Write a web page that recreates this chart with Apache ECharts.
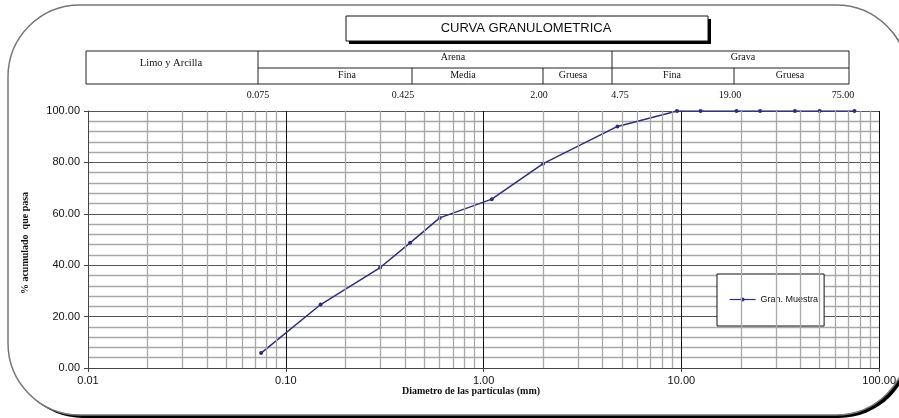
<!DOCTYPE html>
<html>
<head>
<meta charset="utf-8">
<title>Curva granulométrica</title>
<script src="https://cdn.jsdelivr.net/npm/echarts@6/dist/echarts.min.js"></script>
<style>
  html, body { margin: 0; padding: 0; background: #ffffff; }
  #chart { width: 899px; height: 418px; }
</style>
</head>
<body>
<div id="chart"></div>
<script>
// Sieve analysis: particle diameter (mm) and cumulative percent passing
const sieveSize = [0.075, 0.15, 0.3, 0.425, 0.6, 1.1, 2.0, 4.75, 9.5, 12.5, 19, 25, 37.5, 50, 75];
const percentPassing = [5.8, 24.7, 39.1, 48.7, 58.4, 65.7, 79.5, 94.0, 100, 100, 100, 100, 100, 100, 100];
const seriesName = 'Gran. Muestra';

// Soil classification header
const chartTitle = 'CURVA GRANULOMETRICA';
const soilClasses = ['Limo y Arcilla', 'Arena', 'Grava'];
const subClasses = ['Fina', 'Media', 'Gruesa', 'Fina', 'Gruesa'];
const boundaryLabels = ['0.075', '0.425', '2.00', '4.75', '19.00', '75.00'];

const xAxisTitle = 'Diametro de las partículas (mm)';
const yAxisTitle = '% acumulado  que pasa';

// Minor log grid lines (2..9 in every decade)
const minorDiameters = [];
[0.01, 0.1, 1, 10].forEach(function (d) {
  for (let k = 2; k <= 9; k++) minorDiameters.push(+(d * k).toPrecision(3));
});

const SERIF = '"Liberation Serif", "Times New Roman", serif';
const SANS = '"Liberation Sans", Arial, sans-serif';
const LINE_COLOR = '#2E2E7C';

// Header table layout (pixels)
const tbl = { left: 86, right: 849, top: 51, mid: 68, bottom: 84 };
const majorX = [258, 612];
const minorX = [412, 543, 734];
const classX = [171, 453, 743];
const subX = [347, 463, 573, 672, 790];
const boundX = [258, 403, 539, 620, 730, 843];

function hline(x1, x2, y) {
  return { type: 'line', shape: { x1: x1, y1: y, x2: x2, y2: y }, style: { stroke: '#222', lineWidth: 1 }, z: 5 };
}
function vline(x, y1, y2) {
  return { type: 'line', shape: { x1: x, y1: y1, x2: x, y2: y2 }, style: { stroke: '#222', lineWidth: 1 }, z: 5 };
}
function txt(x, y, s, font, size, weight) {
  return {
    type: 'text', x: x, y: y, z: 6,
    style: { text: s, fontFamily: font, fontSize: size, fontWeight: weight || 'normal', fill: '#111', align: 'center', verticalAlign: 'middle' }
  };
}

const graphics = [];
// Outer rounded frame with drop shadow
graphics.push({ type: 'rect', shape: { x: 11, y: 8, width: 900, height: 410, r: 72 }, style: { fill: '#000' }, z: -100, silent: true });
graphics.push({ type: 'rect', shape: { x: 8, y: 5, width: 900, height: 410, r: 72 }, style: { fill: '#fff', stroke: '#777', lineWidth: 1.5 }, z: -99, silent: true });
// Title box with shadow
graphics.push({ type: 'rect', shape: { x: 349, y: 19, width: 362, height: 25 }, style: { fill: '#000' }, z: 4 });
graphics.push({ type: 'rect', shape: { x: 346, y: 16, width: 362, height: 25 }, style: { fill: '#fff', stroke: '#111', lineWidth: 1 }, z: 5 });
graphics.push(txt(526, 28, chartTitle, SANS, 13));
// Table grid
graphics.push(hline(tbl.left, tbl.right, tbl.top));
graphics.push(hline(majorX[0], tbl.right, tbl.mid));
graphics.push(hline(tbl.left, tbl.right, tbl.bottom));
graphics.push(vline(tbl.left, tbl.top, tbl.bottom));
graphics.push(vline(tbl.right, tbl.top, tbl.bottom));
majorX.forEach(function (x) { graphics.push(vline(x, tbl.top, tbl.bottom)); });
minorX.forEach(function (x) { graphics.push(vline(x, tbl.mid, tbl.bottom)); });
graphics.push(txt(classX[0], 63, soilClasses[0], SERIF, 10.5));
graphics.push(txt(classX[1], 57, soilClasses[1], SERIF, 10));
graphics.push(txt(classX[2], 57, soilClasses[2], SERIF, 10));
subClasses.forEach(function (s, i) { graphics.push(txt(subX[i], 75, s, SERIF, 10)); });
boundaryLabels.forEach(function (s, i) { graphics.push(txt(boundX[i], 95, s, SERIF, 10)); });
// Axis titles
graphics.push(txt(471, 391, xAxisTitle, SERIF, 10, 'bold'));
graphics.push({
  type: 'text', x: 25, y: 243, rotation: Math.PI / 2, z: 6,
  style: { text: yAxisTitle, fontFamily: SERIF, fontSize: 10, fontWeight: 'bold', fill: '#111', align: 'center', verticalAlign: 'middle' }
});

const chart = echarts.init(document.getElementById('chart'), null, { renderer: 'canvas' });

chart.setOption({
  animation: false,
  backgroundColor: 'transparent',
  grid: { left: 88, right: 14, top: 111, bottom: 50, containLabel: false },
  legend: {
    left: 717, top: 274,
    orient: 'vertical',
    backgroundColor: '#fff',
    borderColor: '#111', borderWidth: 1, borderRadius: 0,
    padding: [21, 6, 22, 12],
    itemWidth: 26, itemHeight: 5, itemGap: 4,
    lineStyle: { width: 1.2 },
    textStyle: { fontFamily: SANS, fontSize: 9, color: '#111' },
    data: [seriesName]
  },
  xAxis: {
    type: 'log', logBase: 10, min: 0.01, max: 100,
    axisLine: { show: true, lineStyle: { color: '#444', width: 1 } },
    axisTick: { show: true, length: 4, lineStyle: { color: '#444' } },
    axisLabel: {
      showMinLabel: true, showMaxLabel: true, margin: 7,
      fontFamily: SANS, fontSize: 11, color: '#111',
      formatter: function (v) { return Number(v).toFixed(2); }
    },
    splitLine: { show: true, lineStyle: { color: '#111', width: 1 } }
  },
  yAxis: {
    type: 'value', min: 0, max: 100, interval: 20,
    axisLine: { show: true, lineStyle: { color: '#444', width: 1 } },
    axisTick: { show: true, length: 4, lineStyle: { color: '#444' } },
    minorTick: { show: false, splitNumber: 5 },
    axisLabel: {
      margin: 8, fontFamily: SANS, fontSize: 11, color: '#111',
      formatter: function (v) { return Number(v).toFixed(2); }
    },
    splitLine: { show: true, lineStyle: { color: '#555', width: 1 } },
    minorSplitLine: { show: true, lineStyle: { color: '#a8a8a8', width: 1.3 } }
  },
  graphic: graphics,
  series: [
    {
      name: 'grid-minor',
      type: 'line',
      data: [],
      silent: true,
      z: 1,
      markLine: {
        silent: true,
        symbol: 'none',
        animation: false,
        label: { show: false },
        lineStyle: { color: '#a8a8a8', width: 1.3, type: 'solid' },
        data: minorDiameters.map(function (d) { return { xAxis: d }; })
      }
    },
    {
      name: seriesName,
      type: 'line',
      z: 3,
      data: sieveSize.map(function (d, i) { return [d, percentPassing[i]]; }),
      symbol: 'circle',
      symbolSize: 4,
      lineStyle: { color: LINE_COLOR, width: 1.5 },
      itemStyle: { color: LINE_COLOR }
    }
  ]
});
</script>
</body>
</html>
